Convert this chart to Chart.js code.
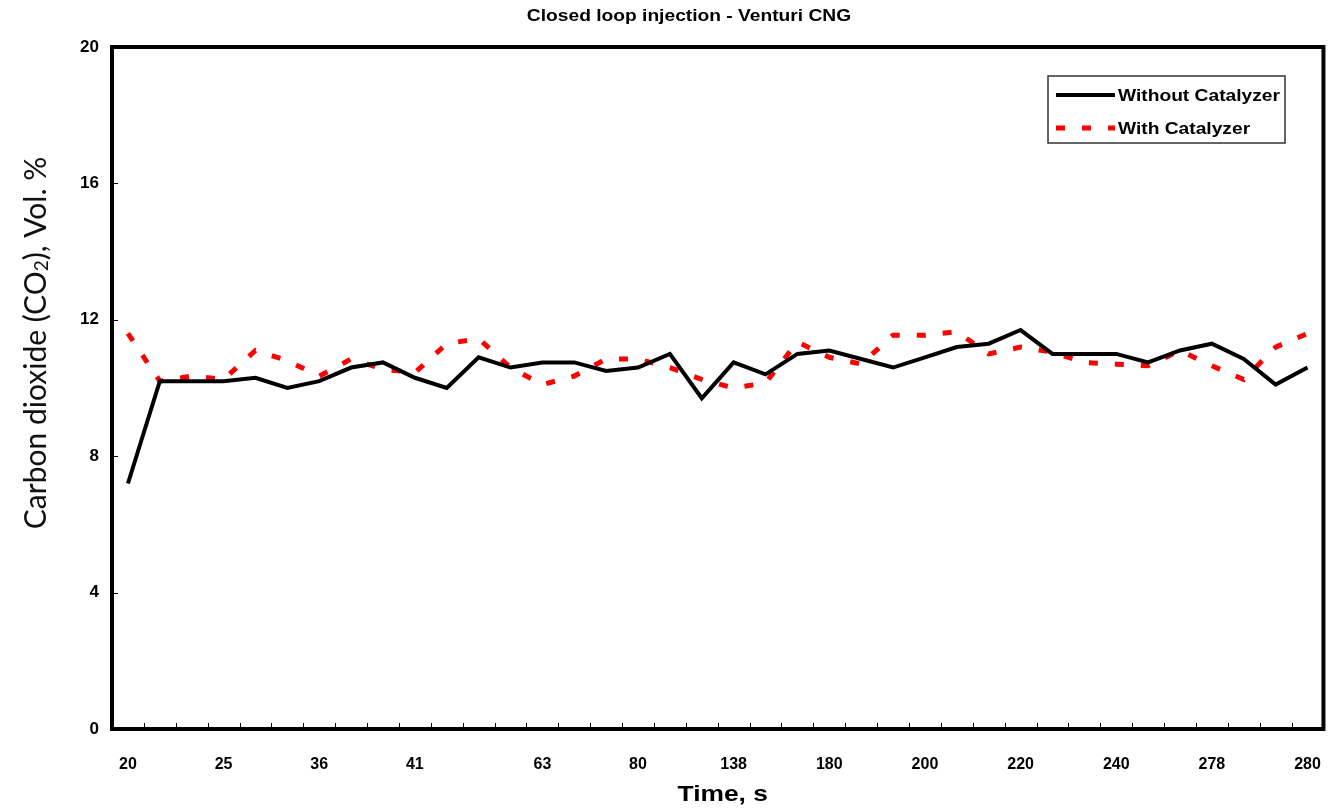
<!DOCTYPE html>
<html>
<head>
<meta charset="utf-8">
<title>Closed loop injection - Venturi CNG</title>
<script src="https://cdn.jsdelivr.net/npm/chart.js@4"></script>
<style>
    html, body { margin: 0; padding: 0; background: #fff; }
    #co2Chart { display: block; }
</style>
</head>
<body>
<canvas id="co2Chart" width="1339" height="811"></canvas>
<script>
// Time axis: only every third (or so) sample carries a printed label
const timeLabels = [
    "20", "", "", "25", "", "", "36", "", "", "41", "", "", "", "63", "", "", "80", "", "",
    "138", "", "", "180", "", "", "200", "", "", "220", "", "", "240", "", "", "278", "", "", "280",
];

// CO2, Vol. %
const withoutCatalyzer = [
    7.2, 10.2, 10.2, 10.2, 10.3, 10.0, 10.2, 10.6, 10.75, 10.3, 10.0, 10.9, 10.6,
    10.75, 10.75, 10.5, 10.6, 11.0, 9.7, 10.75, 10.4, 11.0, 11.1, 10.85, 10.6, 10.9,
    11.2, 11.3, 11.7, 11.0, 11.0, 11.0, 10.75, 11.1, 11.3, 10.85, 10.1, 10.6,
];
const withCatalyzer = [
    11.6, 10.2, 10.35, 10.25, 11.1, 10.8, 10.35, 10.85, 10.55, 10.45, 11.3, 11.45, 10.6,
    10.1, 10.35, 10.85, 10.85, 10.6, 10.25, 10.0, 10.15, 11.35, 10.9, 10.7, 11.55, 11.55,
    11.65, 11.0, 11.2, 11.05, 10.75, 10.7, 10.65, 11.1, 10.65, 10.25, 11.2, 11.6,
];

const yTicks = [0, 4, 8, 12, 16, 20];

const ARIAL = "'Liberation Sans', Arial, sans-serif";
const RED_DASH = [9, 17];
const STRETCH = 1.2; // the bold labels are set a little wide

// draw text stretched horizontally about its anchor
const wideText = (ctx, text, x, y, align) => {
    ctx.save();
    ctx.translate(x, y);
    ctx.scale(STRETCH, 1);
    ctx.textAlign = align;
    ctx.fillText(text, 0, 0);
    ctx.restore();
};

// frame, inside tick marks, titles and the boxed legend
const decorations = {
    id: "decorations",
    afterDraw: function (chart) {
        const ctx = chart.ctx;
        const area = chart.chartArea;
        const xScale = chart.scales.x;
        const yScale = chart.scales.y;

        ctx.save();

        // small tick marks pointing into the plot
        ctx.strokeStyle = "#000";
        ctx.lineWidth = 1;
        ctx.beginPath();
        for (let i = 1; i < timeLabels.length; i++) {
            const x = Math.round(xScale.getPixelForValue(i - 0.5)) + 0.5;
            ctx.moveTo(x, area.bottom);
            ctx.lineTo(x, area.bottom - 6);
        }
        yTicks.forEach((v) => {
            const y = Math.round(yScale.getPixelForValue(v)) + 0.5;
            ctx.moveTo(area.left, y);
            ctx.lineTo(area.left + 6, y);
        });
        ctx.stroke();

        // heavy box round the plot
        ctx.lineWidth = 4;
        ctx.strokeRect(area.left, area.top, area.right - area.left, area.bottom - area.top);

        // chart title
        ctx.fillStyle = "#000";
        ctx.textBaseline = "middle";
        ctx.font = "bold 16px " + ARIAL;
        wideText(ctx, "Closed loop injection - Venturi CNG", 689, 17, "center");

        // x axis title
        ctx.font = "bold 22px " + ARIAL;
        wideText(ctx, "Time, s", (area.left + area.right) / 2 + 5, 795, "center");

        // y axis title with subscript 2
        ctx.save();
        ctx.translate(36, 343);
        ctx.rotate(-Math.PI / 2);
        ctx.textAlign = "left";
        ctx.textBaseline = "middle";
        ctx.fillStyle = "#111";
        const big = "30px Lato, 'Open Sans', sans-serif";
        const small = "19px Lato, 'Open Sans', sans-serif";
        const parts = [
            ["Carbon dioxide (CO", big, 0],
            ["2", small, 6],
            ["), Vol. %", big, 0],
        ];
        let total = 0;
        parts.forEach((p) => {
            ctx.font = p[1];
            total += ctx.measureText(p[0]).width;
        });
        let tx = -total / 2;
        parts.forEach((p) => {
            ctx.font = p[1];
            ctx.fillText(p[0], tx, p[2]);
            tx += ctx.measureText(p[0]).width;
        });
        ctx.restore();

        // legend box
        const box = { x: 1048, y: 76, w: 237, h: 67 };
        ctx.fillStyle = "#fff";
        ctx.fillRect(box.x, box.y, box.w, box.h);
        ctx.strokeStyle = "#333";
        ctx.lineWidth = 1.5;
        ctx.strokeRect(box.x, box.y, box.w, box.h);

        chart.data.datasets.forEach((ds, i) => {
            const y = box.y + 19 + i * 33;
            ctx.strokeStyle = ds.borderColor;
            ctx.lineWidth = ds.borderWidth;
            ctx.setLineDash(ds.borderDash || []);
            ctx.beginPath();
            ctx.moveTo(box.x + 8, y);
            ctx.lineTo(box.x + 67, y);
            ctx.stroke();
            ctx.setLineDash([]);
            ctx.fillStyle = "#000";
            ctx.font = "bold 16px " + ARIAL;
            wideText(ctx, ds.label, box.x + 70, y + 2, "left");
        });

        ctx.restore();
    },
};

const chart = new Chart(document.getElementById("co2Chart"), {
    type: "line",
    data: {
        labels: timeLabels,
        datasets: [
            {
                label: "Without Catalyzer",
                data: withoutCatalyzer,
                borderColor: "#000000",
                borderWidth: 4,
                pointRadius: 0,
                tension: 0,
                fill: false,
            },
            {
                label: "With Catalyzer",
                data: withCatalyzer,
                borderColor: "#ff0000",
                borderWidth: 5,
                borderDash: RED_DASH,
                borderCapStyle: "butt",
                pointRadius: 0,
                tension: 0,
                fill: false,
            },
        ],
    },
    options: {
        responsive: false,
        animation: false,
        devicePixelRatio: 1,
        layout: {
            padding: { top: 47, right: 11, left: 0, bottom: 0 },
        },
        plugins: {
            legend: { display: false },
            title: { display: false },
            tooltip: { enabled: false },
        },
        scales: {
            x: {
                type: "category",
                offset: true,
                grid: { display: false },
                border: { display: false },
                ticks: {
                    autoSkip: false,
                    maxRotation: 0,
                    padding: 18,
                    color: "#000",
                    font: { family: ARIAL, size: 16, weight: "bold" },
                },
                afterFit: (scale) => {
                    scale.height = 82;
                },
            },
            y: {
                min: 0,
                max: 20,
                grid: { display: false },
                border: { display: false },
                afterBuildTicks: (scale) => {
                    scale.ticks = yTicks.map((v) => ({ value: v }));
                },
                ticks: {
                    padding: 5,
                    color: "#000",
                    font: { family: ARIAL, size: 17, weight: "bold" },
                },
                afterFit: (scale) => {
                    scale.width = 112;
                },
            },
        },
    },
    plugins: [decorations],
});
</script>
</body>
</html>
